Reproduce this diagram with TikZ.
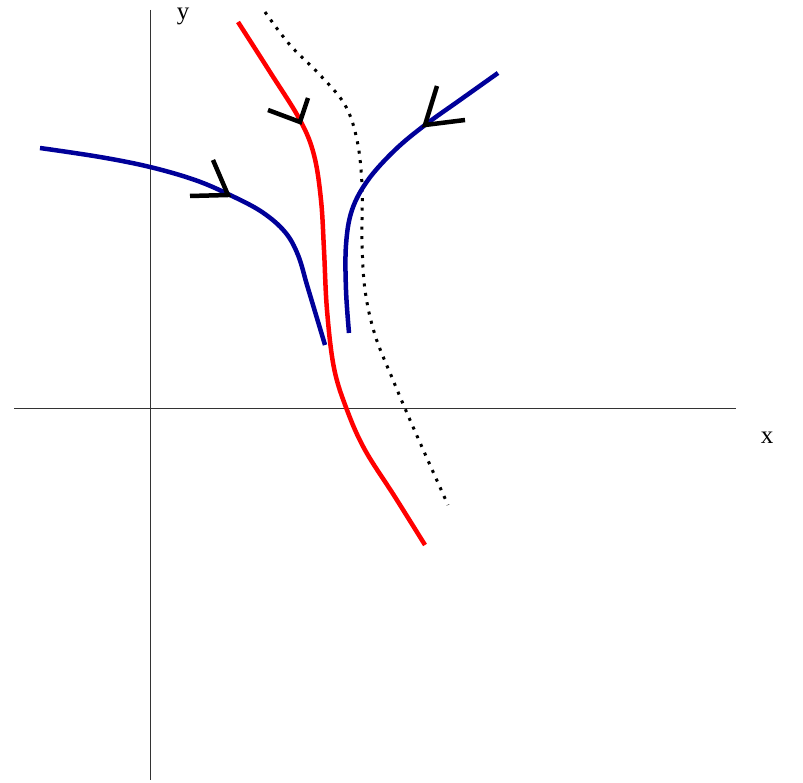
\documentclass[tikz,border=0pt]{standalone}
\usepackage{fontspec}
\setmainfont{Liberation Serif}
\definecolor{curveblue}{RGB}{0,0,153}
\begin{document}
\begin{tikzpicture}[x=1pt,y=-1pt,
  axis/.style={line width=1pt,black!80},
  curve/.style={line width=4.5pt},
  barb/.style={line width=4.5pt,black},
  dots/.style={line width=3pt,black,dash pattern=on 3pt off 6.5pt},
  lbl/.style={font=\fontsize{25}{25}\selectfont,inner sep=0pt}]
\useasboundingbox (0,0) rectangle (803,783);
% axes
\draw[axis] (150,10) -- (150,780);
\draw[axis] (14,408) -- (736,408);
\node[lbl] (ylab) at (183,16) {y};
\node[lbl] (xlab) at (767,438) {x};
% dotted curve
\draw[dots] plot[smooth,tension=0.6] coordinates {(265,12) (290,45) (320,75) (345,105) (357,140) (362,185) (362,240) (365,290) (375,335) (393,380) (410,420) (430,465) (448,505)};
% red curve
\draw[curve,red] plot[smooth,tension=0.6] coordinates {(238,22) (270,72) (300,120) (314,155) (321,200) (324,250) (327,310) (334,368) (347,410) (365,450) (395,497) (425,545)};
% left blue curve
\draw[curve,curveblue] plot[smooth,tension=0.6] coordinates {(40,148) (100,157) (150,167) (195,180) (230,195) (262,212) (285,232) (298,255) (307,285) (316,315) (325,345)};
% right blue curve
\draw[curve,curveblue] plot[smooth,tension=0.6] coordinates {(349,333) (346,290) (346,245) (352,210) (368,180) (395,150) (425,125) (460,100) (498,73)};
% arrowheads
\coordinate (t1) at (228,195);
\draw[barb] (190,196) -- (t1) -- (213,160);
\coordinate (t2) at (300,122);
\draw[barb] (268,110) -- (t2) -- (308,98);
\coordinate (t3) at (425,125);
\draw[barb] (437,86) -- (t3) -- (465,120);
\end{tikzpicture}
\end{document}
